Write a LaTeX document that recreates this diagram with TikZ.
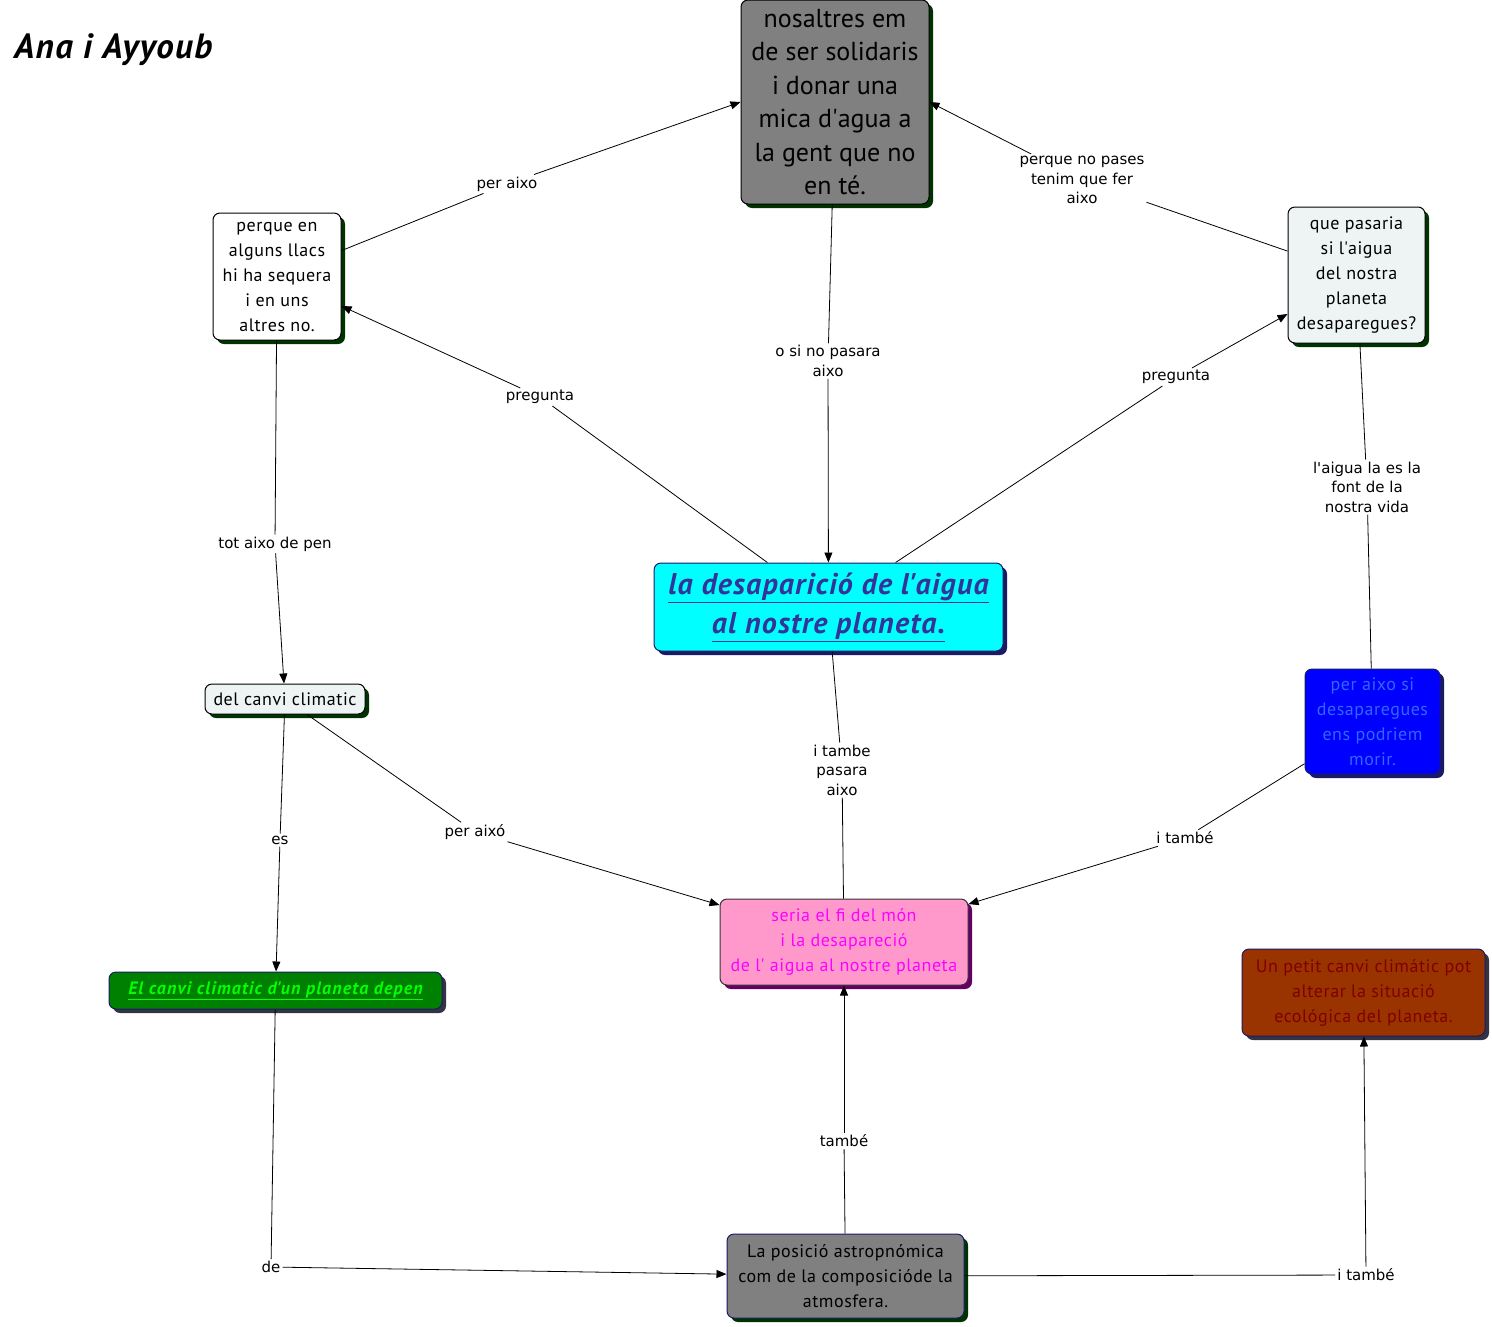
\documentclass[tikz,border=0pt]{standalone}
\usepackage{fontspec}
\setmainfont{PT Sans}
\newfontfamily\lblfont{DejaVu Sans}
\usetikzlibrary{shadows,arrows.meta}
\definecolor{sgreen}{HTML}{003300}
\definecolor{snavy}{HTML}{1A1A66}
\definecolor{spurple}{HTML}{660066}
\definecolor{sgray}{HTML}{333344}
\definecolor{gfill}{HTML}{808080}
\definecolor{lfill}{HTML}{EEF3F4}
\definecolor{cyanfill}{HTML}{00FFFF}
\definecolor{cyantext}{HTML}{333399}
\definecolor{bluefill}{HTML}{0000FF}
\definecolor{bluetext}{HTML}{3366FF}
\definecolor{pinkfill}{HTML}{FF99CC}
\definecolor{pinktext}{HTML}{FF00FF}
\definecolor{greenfill}{HTML}{008000}
\definecolor{greentext}{HTML}{00FF00}
\definecolor{brownfill}{HTML}{993300}
\definecolor{browntext}{HTML}{800000}
\newcommand\aq{\textquotesingle}
\begin{document}
\begin{tikzpicture}[x=1pt,y=-1pt,
  box/.style={draw=black, rounded corners=7pt, line width=1pt, inner sep=0pt,
    align=center, font=\fontsize{18}{25}\selectfont\addfontfeature{LetterSpace=3}},
  shgreen/.style={drop shadow={shadow xshift=4pt,shadow yshift=-4pt,fill=sgreen,opacity=1}},
  shnavy/.style={drop shadow={shadow xshift=4pt,shadow yshift=-4pt,fill=snavy,opacity=1}},
  shpurple/.style={drop shadow={shadow xshift=4pt,shadow yshift=-4pt,fill=spurple,opacity=1}},
  shgray/.style={drop shadow={shadow xshift=4pt,shadow yshift=-4pt,fill=sgray,opacity=1}},
  lbl/.style={fill=white, inner sep=2pt, align=center, font=\lblfont\fontsize{15}{19.5}\selectfont},
  con/.style={draw=black, line width=0.8pt},
  conA/.style={con, -{Triangle[length=10pt,width=8pt]}}
]
\useasboundingbox (0,0) rectangle (1492,1326);

% title
\node[anchor=west, inner sep=0pt, font=\fontsize{35}{40}\selectfont\bfseries\itshape\addfontfeature{LetterSpace=4}] (title) at (14,50) {Ana i Ayyoub};

% nodes
\node[box, shgreen, fill=gfill, minimum width=188pt, minimum height=204pt,
  font=\fontsize{26}{33.5}\selectfont] (top) at (835,102)
  {nosaltres em\\de ser solidaris\\i donar una\\mica d\aq agua a\\la gent que no\\en té.};
\node[box, shgreen, fill=white, minimum width=128pt, minimum height=127pt] (lw) at (277,276.5)
  {perque en\\alguns llacs\\hi ha sequera\\i en uns\\altres no.};
\node[box, shgreen, fill=lfill, minimum width=137pt, minimum height=136pt] (rq) at (1356.5,275)
  {que pasaria\\si l\aq aigua\\del nostra\\planeta\\desaparegues?};
\node[box, shnavy, draw=snavy, fill=cyanfill, text=cyantext, minimum width=349pt, minimum height=88pt,
  font=\fontsize{30}{39}\selectfont\bfseries\itshape\addfontfeature{LetterSpace=4}] (cy) at (828.5,607)
  {\underline{la desaparició de l\aq aigua}\\\underline{al nostre planeta.}};
\node[box, shgreen, fill=lfill, minimum width=160pt, minimum height=30pt] (dc) at (285,699)
  {del canvi climatic};
\node[box, shnavy, draw=snavy, fill=bluefill, text=bluetext, minimum width=135pt, minimum height=105pt] (bl) at (1372.5,721.5)
  {per aixo si\\desaparegues\\ens podriem\\morir.};
\node[box, shpurple, draw=black!80, fill=pinkfill, text=pinktext, minimum width=248pt, minimum height=86pt] (pk) at (844,942)
  {seria el fi del món\\i la desapareció\\de l\aq{} aigua al nostre planeta};
\node[box, shgray, draw=snavy, fill=greenfill, text=greentext, minimum width=333pt, minimum height=37pt,
  font=\fontsize{18}{25}\selectfont\bfseries\itshape\addfontfeature{LetterSpace=6}] (gr) at (275.5,990.5)
  {\underline{El canvi climatic d\aq un planeta depen}};
\node[box, shgray, draw=snavy, fill=brownfill, text=browntext, minimum width=243pt, minimum height=87pt] (br) at (1363.5,992.5)
  {Un petit canvi climátic pot\\alterar la situació\\ecológica del planeta.};
\node[box, shgreen, draw=snavy, fill=gfill, minimum width=237pt, minimum height=84pt] (bg) at (845.5,1276)
  {La posició astropnómica\\com de la composicióde la\\atmosfera.};

% labels
\node[lbl] (l1) at (507,184) {per aixo};
\node[lbl] (l2) at (540,397) {pregunta};
\node[lbl] (l3) at (828,361) {o si no pasara\\aixo};
\node[lbl] (l4) at (1176,377) {pregunta};
\node[lbl] (l5) at (1082,180) {perque no pases\\tenim que fer\\aixo};
\node[lbl] (l6) at (1367,487) {l\aq aigua la es la\\font de la\\nostra vida};
\node[lbl] (l7) at (275,544) {tot aixo de pen};
\node[lbl] (l8) at (280,840) {es};
\node[lbl] (l9) at (475,832) {per aixó};
\node[lbl] (l10) at (842,770) {i tambe\\pasara\\aixo};
\node[lbl] (l11) at (1185,838) {i també};
\node[lbl] (l12) at (271,1267) {de};
\node[lbl] (l13) at (844,1141) {també};
\node[lbl] (l14) at (1366,1275) {i també};

% connectors
\draw[con] (lw) -- (l1); \draw[conA] (l1) -- (top.west);
\draw[con] (cy) -- (l2); \draw[conA] (l2) -- (lw);
\draw[con] (top) -- (l3); \draw[conA] (l3) -- (cy);
\draw[con] (cy) -- (l4); \draw[conA] (l4) -- (rq);
\draw[con] (rq) -- (l5); \draw[conA] (l5) -- (top.east);
\draw[con] (rq) -- (l6); \draw[con] (l6) -- (bl);
\draw[con] (lw) -- (l7); \draw[conA] (l7) -- (dc);
\draw[con] (dc) -- (l8); \draw[conA] (l8) -- (gr);
\draw[con] (dc) -- (l9); \draw[conA] (l9) -- (pk);
\draw[con] (cy) -- (l10); \draw[con] (l10) -- (pk);
\draw[con] (bl) -- (l11); \draw[conA] (l11) -- (pk);
\draw[con] (gr) -- (l12); \draw[conA] (l12) -- (bg);
\draw[con] (bg) -- (l13); \draw[conA] (l13) -- (pk);
\draw[con] (bg) -- (l14); \draw[conA] (l14) -- (br);
\end{tikzpicture}
\end{document}
